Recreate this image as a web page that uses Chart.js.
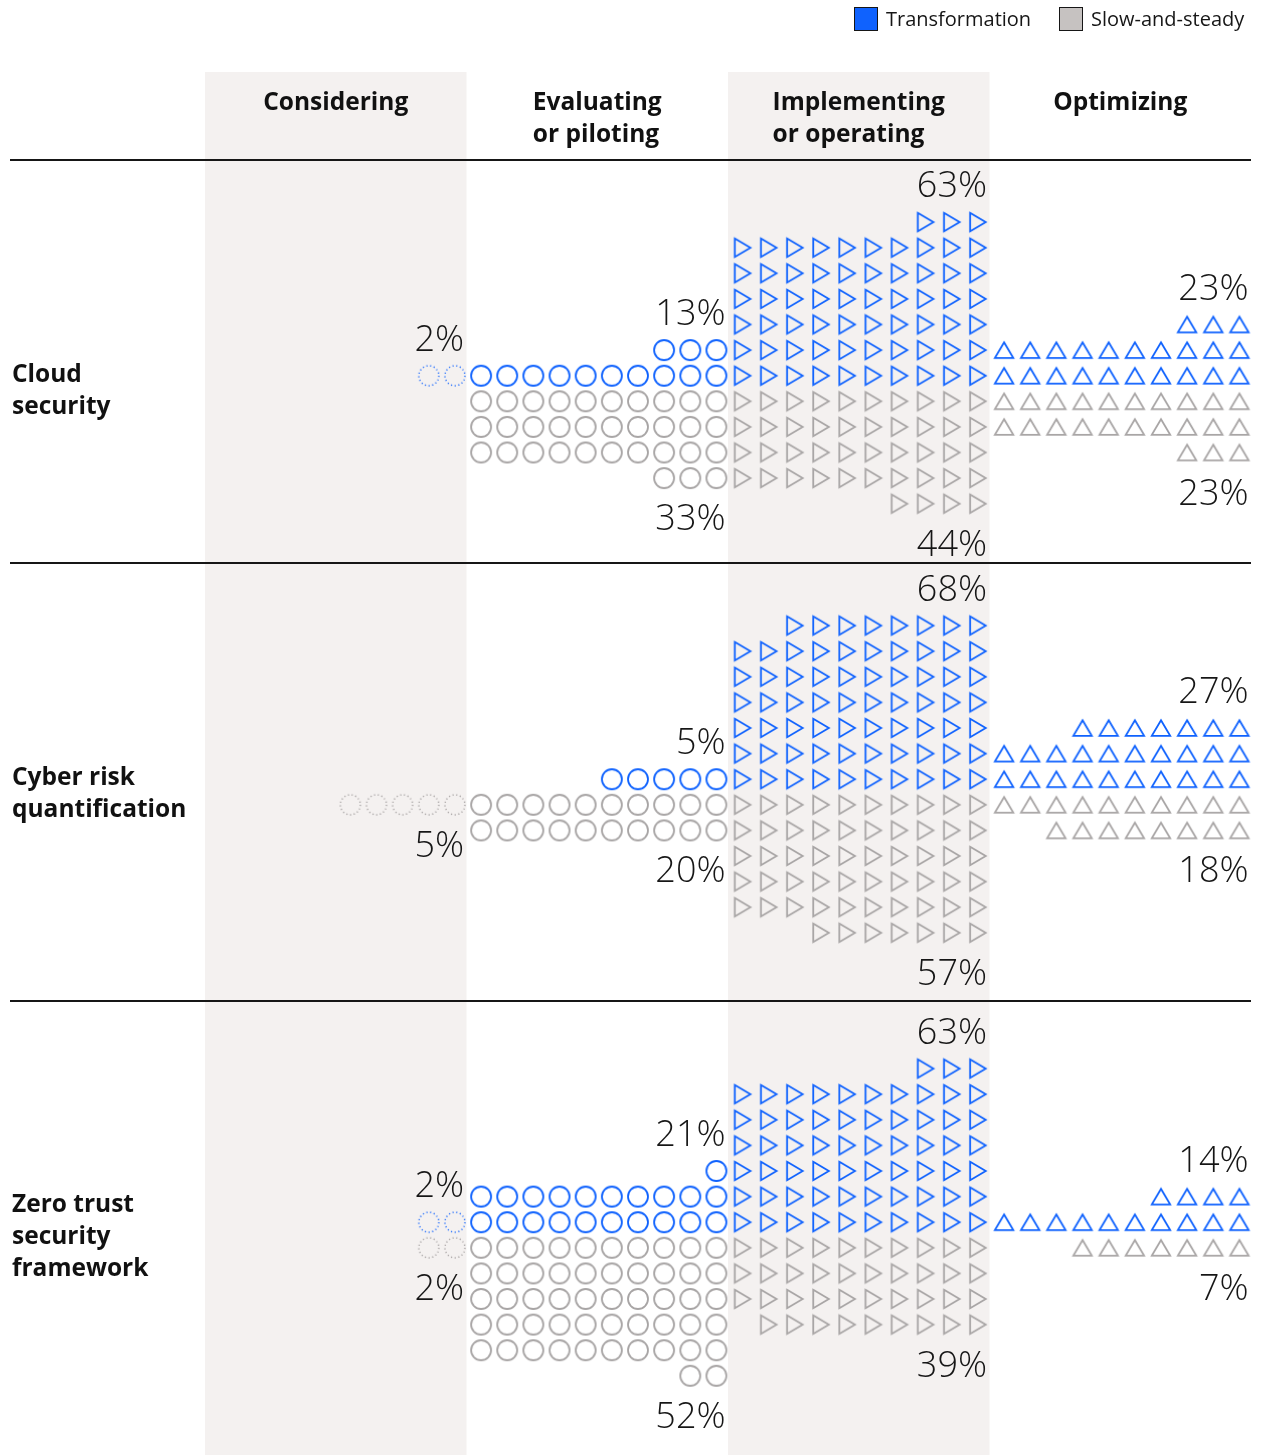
<!DOCTYPE html>
<html>
<head>
<meta charset="utf-8">
<script src="https://cdn.jsdelivr.net/npm/chart.js@4.4.1/dist/chart.umd.min.js"></script>
<style>
  html, body { margin: 0; padding: 0; background: #fff; }
  #wrap { position: relative; width: 1265px; height: 1455px; overflow: hidden; font-family: "Open Sans", Roboto, sans-serif; color: #161616; }
  #c { position: absolute; left: 0; top: 0; }
  .legend-item { position: absolute; top: 5px; height: 27px; display: flex; align-items: center; font-size: 20px; font-weight: 400; color: #161616; }
  .legend-item .sw { width: 22px; height: 22px; border: 1.5px solid #161616; margin-right: 8px; }
  .stage-head { position: absolute; top: 85px; display: flex; justify-content: center; }
  .stage-head div, .topic { font-size: 24.5px; font-weight: 700; line-height: 32px; white-space: pre; color: #111; }
  .topic { position: absolute; left: 12px; }
</style>
</head>
<body>
<div id="wrap">
  <canvas id="c" width="1265" height="1455"></canvas>
</div>
<script>
// ---------------- data ----------------
const stages = ['Considering', 'Evaluating\nor piloting', 'Implementing\nor operating', 'Optimizing'];
const topics = ['Cloud\nsecurity', 'Cyber risk\nquantification', 'Zero trust\nsecurity\nframework'];
const seriesNames = ['Transformation', 'Slow-and-steady'];

// percent of respondents per stage (Considering, Evaluating, Implementing, Optimizing)
const cloudTransformation = [2, 13, 63, 23];
const cloudSlowSteady     = [0, 33, 44, 23];
const cyberTransformation = [0, 5, 68, 27];
const cyberSlowSteady     = [5, 20, 57, 18];
const zeroTransformation  = [2, 21, 63, 14];
const zeroSlowSteady      = [2, 52, 39, 7];

const transformationByTopic = [cloudTransformation, cyberTransformation, zeroTransformation];
const slowSteadyByTopic     = [cloudSlowSteady, cyberSlowSteady, zeroSlowSteady];

// ---------------- layout / style ----------------
const UNITS_PER_ROW = 10;
const COL_PX = 26.15;
const X_ORIGIN_PX = 206.5;
const ROW_PX = 25.6;
const SECTION_CENTER = [388.5, 792, 1235];
const DIVIDERS = [160, 563, 1001];
const BAND_TOP = 72;
const W = 1265, H = 1455;

const BLUE = '#0f62fe';
const GRAY = '#a8a5a5';
const GRAY_DOT = '#a09c9c';
const BAND = '#f4f1f0';
const LABEL_FONT = '300 36px "Open Sans", Roboto, sans-serif';

function symbol(kind, color, dotted) {
  const c = document.createElement('canvas');
  c.width = 26; c.height = 26;
  const g = c.getContext('2d');
  g.strokeStyle = color;
  g.lineWidth = dotted ? 1.4 : 1.8;
  g.lineJoin = 'miter';
  if (dotted) { g.setLineDash([1.1, 2.6]); }
  g.beginPath();
  if (kind === 'circle') {
    g.arc(13, 13, 10, 0, Math.PI * 2);
  } else if (kind === 'up') {
    g.moveTo(13, 13 - 7.8); g.lineTo(13 + 9.2, 13 + 7.8); g.lineTo(13 - 9.2, 13 + 7.8); g.closePath();
  } else {
    g.moveTo(13 - 7.8, 13 - 9.2); g.lineTo(13 + 7.8, 13); g.lineTo(13 - 7.8, 13 + 9.2); g.closePath();
  }
  g.stroke();
  return c;
}

const stageSymbols = [
  [symbol('circle', BLUE, true), symbol('circle', GRAY_DOT, true)],
  [symbol('circle', BLUE, false), symbol('circle', GRAY, false)],
  [symbol('right', BLUE, false), symbol('right', GRAY, false)],
  [symbol('up', BLUE, false), symbol('up', GRAY, false)]
];

// build unit points: each unit = 1%, rows of 10, right-aligned,
// transformation stacks upward, slow-and-steady downward
function unitPoints(value, stage, side, topic) {
  const pts = [];
  for (let i = 0; i < value; i++) {
    const row = Math.floor(i / UNITS_PER_ROW);
    const col = UNITS_PER_ROW - 1 - (i % UNITS_PER_ROW);
    pts.push({ x: stage * UNITS_PER_ROW + col + 0.5, y: SECTION_CENTER[topic] + side * (row + 0.5) * ROW_PX });
  }
  return pts;
}

const datasets = [];
[transformationByTopic, slowSteadyByTopic].forEach((byTopic, si) => {
  stages.forEach((st, s) => {
    const pts = [];
    byTopic.forEach((vals, t) => pts.push(...unitPoints(vals[s], s, si === 0 ? -1 : 1, t)));
    datasets.push({
      label: seriesNames[si] + ' – ' + st,
      data: pts,
      pointStyle: stageSymbols[s][si],
      pointRadius: 10,
      pointHoverRadius: 10,
      showLine: false
    });
  });
});

const decor = {
  id: 'decor',
  beforeDatasetsDraw(chart) {
    const ctx = chart.ctx, xs = chart.scales.x, ys = chart.scales.y;
    ctx.save();
    // shaded stage bands
    ctx.fillStyle = BAND;
    [0, 2].forEach(s => {
      const l = xs.getPixelForValue(s * UNITS_PER_ROW) - 1.5;
      const r = xs.getPixelForValue((s + 1) * UNITS_PER_ROW) - 1.5;
      ctx.fillRect(l, ys.getPixelForValue(BAND_TOP), r - l, ys.getPixelForValue(H) - ys.getPixelForValue(BAND_TOP));
    });
    // divider lines
    ctx.strokeStyle = '#161616';
    ctx.lineWidth = 2;
    const rEdge = xs.getPixelForValue(4 * UNITS_PER_ROW) - 1.5;
    DIVIDERS.forEach(y => {
      const py = Math.round(ys.getPixelForValue(y));
      ctx.beginPath(); ctx.moveTo(10, py); ctx.lineTo(rEdge, py); ctx.stroke();
    });
    ctx.restore();
  },
  afterDatasetsDraw(chart) {
    const ctx = chart.ctx, xs = chart.scales.x, ys = chart.scales.y;
    ctx.save();
    ctx.fillStyle = '#161616';
    ctx.font = LABEL_FONT;
    ctx.textAlign = 'right';
    ctx.textBaseline = 'alphabetic';
    [transformationByTopic, slowSteadyByTopic].forEach((byTopic, si) => {
      byTopic.forEach((vals, t) => {
        vals.forEach((v, s) => {
          if (!v) return;
          const rows = Math.ceil(v / UNITS_PER_ROW);
          const x = xs.getPixelForValue((s + 1) * UNITS_PER_ROW) - 4;
          let y;
          if (si === 0) {
            y = ys.getPixelForValue(SECTION_CENTER[t] - (rows - 0.5) * ROW_PX) - 25;
          } else {
            y = ys.getPixelForValue(SECTION_CENTER[t] + (rows - 0.5) * ROW_PX) + 52;
          }
          ctx.fillText(v + '%', x, y);
        });
      });
    });
    ctx.restore();
  }
};

const chart = new Chart(document.getElementById('c'), {
  type: 'scatter',
  data: { datasets },
  options: {
    responsive: false,
    animation: false,
    events: [],
    layout: { padding: 0, autoPadding: false },
    plugins: { legend: { display: false }, tooltip: { enabled: false } },
    scales: {
      x: { type: 'linear', display: false, min: -X_ORIGIN_PX / COL_PX, max: (W - X_ORIGIN_PX) / COL_PX },
      y: { type: 'linear', display: false, reverse: true, min: 0, max: H }
    }
  },
  plugins: [decor]
});

// ---------------- HTML text: legend, stage headers, topic labels ----------------
const wrap = document.getElementById('wrap');
const legendColors = [BLUE, '#c6c2c1'];
const legendLeft = [854, 1059];
seriesNames.forEach((n, i) => {
  const d = document.createElement('div');
  d.className = 'legend-item';
  d.style.left = legendLeft[i] + 'px';
  d.innerHTML = '<span class="sw" style="background:' + legendColors[i] + '"></span><span>' + n + '</span>';
  wrap.appendChild(d);
});
stages.forEach((st, s) => {
  const l = chart.scales.x.getPixelForValue(s * UNITS_PER_ROW) - 1.5;
  const r = chart.scales.x.getPixelForValue((s + 1) * UNITS_PER_ROW) - 1.5;
  const d = document.createElement('div');
  d.className = 'stage-head';
  d.style.left = l + 'px';
  d.style.width = (r - l) + 'px';
  const inner = document.createElement('div');
  inner.textContent = st;
  d.appendChild(inner);
  wrap.appendChild(d);
});
topics.forEach((tp, t) => {
  const d = document.createElement('div');
  d.className = 'topic';
  d.textContent = tp;
  const lines = tp.split('\n').length;
  d.style.top = (SECTION_CENTER[t] - lines * 16) + 'px';
  wrap.appendChild(d);
});
</script>
</body>
</html>
